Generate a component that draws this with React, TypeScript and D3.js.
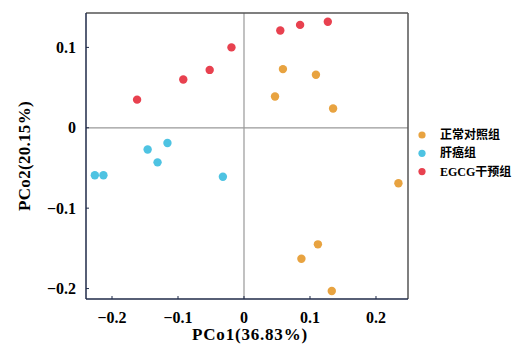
import React from "react";
import * as d3 from "d3";

// PCoA scores
const controlX = [0.059, 0.109, 0.047, 0.135, 0.234, 0.112, 0.087, 0.133];
const controlY = [0.073, 0.066, 0.039, 0.024, -0.069, -0.145, -0.163, -0.203];
const cancerX = [-0.226, -0.213, -0.146, -0.116, -0.131, -0.032];
const cancerY = [-0.059, -0.059, -0.027, -0.019, -0.043, -0.061];
const egcgX = [-0.162, -0.092, -0.052, -0.019, 0.055, 0.085, 0.127];
const egcgY = [0.035, 0.06, 0.072, 0.1, 0.121, 0.128, 0.132];

const groupNames = ["正常对照组", "肝癌组", "EGCG干预组"];
const groupColors = ["#E8A340", "#4EC3E2", "#E8414F"];
const xTicks = [-0.2, -0.1, 0, 0.1, 0.2];
const yTicks = [0.1, 0, -0.1, -0.2];

const groups = [
  { xs: controlX, ys: controlY },
  { xs: cancerX, ys: cancerY },
  { xs: egcgX, ys: egcgY },
];

const fontFamily = "'Liberation Serif', 'Times New Roman', 'Noto Sans CJK SC', serif";

export default function App() {
  const width = 516;
  const height = 346;
  const left = 86;
  const right = 408;
  const top = 13;
  const bottom = 299;

  const x = d3.scaleLinear().domain([-0.2394, 0.2485]).range([left, right]);
  const y = d3.scaleLinear().domain([-0.213, 0.1428]).range([bottom, top]);

  const fmt = (v: number) => (v === 0 ? "0" : d3.format(".1f")(v));

  return (
    <svg
      width={width}
      height={height}
      style={{ position: "absolute", left: 0, top: 0, background: "#fff" }}
      fontFamily={fontFamily}
    >
      {/* zero lines */}
      <line x1={x(0)} x2={x(0)} y1={top} y2={bottom} stroke="#999" strokeWidth={1.2} />
      <line x1={left} x2={right} y1={y(0)} y2={y(0)} stroke="#999" strokeWidth={1.2} />

      {/* frame */}
      <line x1={left} x2={right} y1={top} y2={top} stroke="#555" strokeWidth={1.5} />
      <line x1={right} x2={right} y1={top} y2={bottom} stroke="#555" strokeWidth={1.5} />
      <line x1={left} x2={left} y1={top} y2={bottom} stroke="#1f2a48" strokeWidth={1.5} />
      <line x1={left} x2={right} y1={bottom} y2={bottom} stroke="#1f2a48" strokeWidth={1.5} />

      {/* y ticks */}
      {yTicks.map((t) => (
        <g key={"y" + t}>
          <line x1={left} x2={left + 3} y1={y(t)} y2={y(t)} stroke="#1f2a48" strokeWidth={1} />
          <text
            x={left - 10}
            y={y(t)}
            textAnchor="end"
            dominantBaseline="central"
            fontSize={16}
            fontWeight="bold"
          >
            {fmt(t)}
          </text>
        </g>
      ))}

      {/* x ticks */}
      {xTicks.map((t) => (
        <g key={"x" + t}>
          <line x1={x(t)} x2={x(t)} y1={bottom} y2={bottom - 3} stroke="#1f2a48" strokeWidth={1} />
          <text x={x(t)} y={317} textAnchor="middle" dominantBaseline="central" fontSize={16} fontWeight="bold">
            {fmt(t)}
          </text>
        </g>
      ))}

      {/* axis titles */}
      <text x={250} y={340} textAnchor="middle" fontSize={17} fontWeight="bold" letterSpacing={0.8}>
        PCo1(36.83%)
      </text>
      <text
        transform="translate(24,156) rotate(-90)"
        textAnchor="middle"
        dominantBaseline="central"
        fontSize={17}
        fontWeight="bold"
        letterSpacing={0.3}
      >
        PCo2(20.15%)
      </text>

      {/* points */}
      {groups.map((g, gi) =>
        g.xs.map((v, i) => (
          <circle key={gi + "-" + i} cx={x(v)} cy={y(g.ys[i])} r={4.2} fill={groupColors[gi]} />
        ))
      )}

      {/* legend */}
      {groupNames.map((name, i) => (
        <g key={name} transform={`translate(422,${135 + i * 18.3})`}>
          <circle r={3.6} fill={groupColors[i]} />
          <text x={18} dominantBaseline="central" fontSize={12} fontWeight="bold">
            {name}
          </text>
        </g>
      ))}
    </svg>
  );
}
